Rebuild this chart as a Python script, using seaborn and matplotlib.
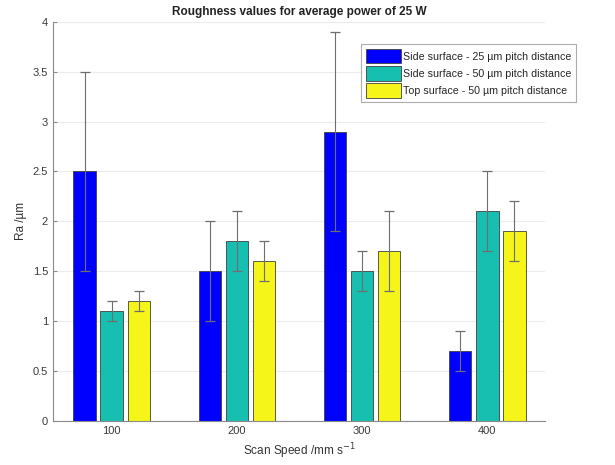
import pandas as pd
import numpy as np
import matplotlib.pyplot as plt
import seaborn as sns

# data
speeds = ['100', '200', '300', '400']
series = ['Side surface - 25 \u00b5m pitch distance',
          'Side surface - 50 \u00b5m pitch distance',
          'Top surface - 50 \u00b5m pitch distance']
side25 = [2.5, 1.5, 2.9, 0.7]
side50 = [1.1, 1.8, 1.5, 2.1]
top50 = [1.2, 1.6, 1.7, 1.9]
side25_err = [1.0, 0.5, 1.0, 0.2]
side50_err = [0.1, 0.3, 0.2, 0.4]
top50_err = [0.1, 0.2, 0.4, 0.3]
colors = ['#0000ff', '#17bfb0', '#f5f51a']

df = pd.DataFrame({
    'speed': speeds * 3,
    'series': np.repeat(series, 4),
    'Ra': side25 + side50 + top50,
    'err': side25_err + side50_err + top50_err,
})

sns.set_style('white')
plt.rcParams['font.family'] = ['Liberation Sans', 'DejaVu Sans']

fig = plt.figure(figsize=(6.15, 4.65), dpi=100)
ax = fig.add_axes([0.086, 0.095, 0.80, 0.858])

sns.barplot(data=df, x='speed', y='Ra', hue='series', order=speeds, hue_order=series,
            palette=colors, saturation=1, width=0.65, gap=0.17, errorbar=None,
            edgecolor='#404040', linewidth=0.6, ax=ax, zorder=2)

# error bars at bar centres
for cont, s in zip(ax.containers, series):
    sub = df[df['series'] == s].set_index('speed').loc[speeds]
    xs = [p.get_x() + p.get_width() / 2 for p in cont.patches]
    ax.errorbar(xs, sub['Ra'], yerr=sub['err'], fmt='none', ecolor='#6e6e6e',
                elinewidth=0.8, capsize=3.5, capthick=0.9, zorder=3)

ax.set_xlim(-0.47, 3.46)
ax.set_ylim(0, 4)
ax.set_yticks(np.arange(0, 4.01, 0.5))
ax.set_yticklabels(['0', '0.5', '1', '1.5', '2', '2.5', '3', '3.5', '4'])
ax.yaxis.grid(True, color='#ececec', linewidth=0.8)
ax.set_axisbelow(True)
for side in ['top', 'right']:
    ax.spines[side].set_visible(False)
for side in ['left', 'bottom']:
    ax.spines[side].set_color('#8a8a8a')
    ax.spines[side].set_linewidth(0.8)
ax.tick_params(axis='both', labelsize=8, colors='#8a8a8a', labelcolor='#3a3a3a',
               direction='in', length=3, left=True, bottom=False)

ax.set_xlabel('Scan Speed /mm s$^{-1}$', fontsize=8.5, color='#333333')
ax.set_ylabel('Ra /\u00b5m', fontsize=8.5, color='#333333')
ax.set_title('Roughness values for average power of 25 W', fontsize=8.5,
             fontweight='bold', color='#222222', pad=5)

leg = ax.legend(loc='upper left', bbox_to_anchor=(0.587, 0.905), bbox_transform=fig.transFigure,
                fontsize=7.7, frameon=True, fancybox=False, edgecolor='#999999',
                handlelength=3.3, handleheight=1.7, handletextpad=0.15,
                borderpad=0.45, labelspacing=0.25, borderaxespad=0)
leg.get_frame().set_linewidth(0.8)

fig.savefig('out.png', dpi=100)
